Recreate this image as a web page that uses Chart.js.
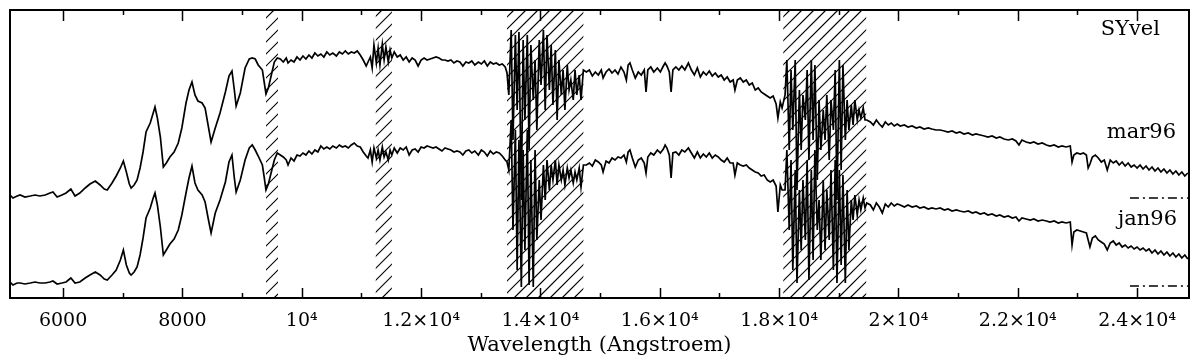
<!DOCTYPE html>
<html>
<head>
<meta charset="utf-8">
<script src="https://cdn.jsdelivr.net/npm/chart.js@4"></script>
<style>
  html, body { margin: 0; padding: 0; background: #fff; }
  #wrap { width: 1200px; height: 362px; }
</style>
</head>
<body>
<div id="wrap"><canvas id="spec" width="1200" height="362"></canvas></div>
<script>
// wavelength grid (Angstroem)
const wavelength = [
    5110, 5160, 5230, 5280, 5360, 5450, 5530, 5610, 5700, 5780,
    5830, 5900, 5980, 6050, 6130, 6200, 6280, 6370, 6450, 6540,
    6620, 6690, 6740, 6820, 6890, 6960, 7010, 7060, 7110, 7140,
    7190, 7240, 7290, 7340, 7390, 7460, 7510, 7540, 7580, 7630,
    7680, 7730, 7790, 7860, 7930, 7990, 8060, 8110, 8160, 8210,
    8260, 8330, 8380, 8430, 8480, 8550, 8630, 8720, 8780, 8830,
    8870, 8900, 8970, 9050, 9120, 9170, 9220, 9270, 9340, 9370,
    9400, 9440, 9490, 9540, 9590, 9640, 9690, 9740, 9770, 9820,
    9870, 9920, 9970, 10020, 10070, 10120, 10170, 10220, 10270, 10320,
    10370, 10420, 10470, 10520, 10580, 10630, 10680, 10730, 10780, 10830,
    10880, 10930, 10980, 11030, 11080, 11110, 11150, 11180, 11210, 11250,
    11280, 11310, 11350, 11380, 11410, 11450, 11480, 11510, 11550, 11600,
    11650, 11700, 11750, 11800, 11850, 11900, 11950, 12000, 12050, 12100,
    12150, 12200, 12250, 12300, 12350, 12400, 12450, 12500, 12550, 12600,
    12650, 12700, 12750, 12800, 12850, 12900, 12960, 13010, 13060, 13110,
    13160, 13210, 13260, 13310, 13360, 13410, 13440, 13470, 13510, 13540,
    13580, 13610, 13640, 13680, 13710, 13740, 13780, 13810, 13840, 13880,
    13910, 13940, 13980, 14010, 14050, 14080, 14110, 14150, 14180, 14210,
    14250, 14280, 14310, 14350, 14380, 14410, 14450, 14480, 14510, 14550,
    14580, 14610, 14650, 14680, 14720, 14770, 14820, 14870, 14920, 14970,
    15020, 15050, 15100, 15150, 15200, 15250, 15300, 15350, 15400, 15440,
    15470, 15500, 15540, 15590, 15640, 15690, 15740, 15770, 15800, 15850,
    15900, 15960, 16010, 16060, 16090, 16120, 16160, 16190, 16220, 16270,
    16320, 16370, 16420, 16480, 16530, 16580, 16630, 16680, 16730, 16780,
    16830, 16880, 16930, 16980, 17030, 17080, 17130, 17180, 17230, 17260,
    17300, 17350, 17400, 17450, 17500, 17550, 17600, 17650, 17700, 17750,
    17800, 17850, 17900, 17950, 17980, 18020, 18050, 18100, 18130, 18170,
    18200, 18230, 18270, 18300, 18340, 18370, 18400, 18440, 18470, 18500,
    18540, 18570, 18600, 18640, 18670, 18700, 18740, 18770, 18800, 18840,
    18870, 18910, 18940, 18970, 19010, 19040, 19070, 19110, 19140, 19170,
    19210, 19240, 19270, 19310, 19340, 19370, 19410, 19440, 19470, 19530,
    19580, 19630, 19680, 19730, 19780, 19830, 19880, 19930, 19980, 20030,
    20100, 20160, 20230, 20300, 20360, 20430, 20500, 20560, 20630, 20700,
    20770, 20830, 20900, 20970, 21030, 21100, 21170, 21240, 21300, 21370,
    21440, 21500, 21570, 21640, 21700, 21770, 21840, 21910, 21970, 22020,
    22070, 22140, 22210, 22270, 22340, 22410, 22480, 22540, 22610, 22680,
    22740, 22810, 22880, 22910, 22940, 22990, 23050, 23100, 23150, 23180,
    23210, 23250, 23300, 23350, 23400, 23450, 23500, 23550, 23600, 23650,
    23700, 23750, 23800, 23850, 23900, 23950, 24000, 24050, 24100, 24150,
    24200, 24250, 24300, 24350, 24400, 24450, 24500, 24550, 24600, 24650,
    24700, 24750, 24800, 24850
];

// flux (arbitrary units, zero = dash-dot marker) for the two epochs
const mar96 = [
    3, 0, 2, 3, 1, 2, 3, 2, 3, 5,
    6, 1, 3, 5, 9, 2, 5, 10, 14, 17,
    13, 9, 8, 15, 22, 30, 37, 26, 14, 10,
    13, 18, 30, 46, 66, 75, 85, 91, 80, 61,
    31, 35, 41, 46, 55, 70, 95, 108, 116, 103,
    97, 95, 90, 73, 56, 70, 85, 106, 122, 127,
    108, 92, 105, 130, 139, 140, 139, 133, 128, 116,
    104, 110, 123, 136, 140, 139, 136, 140, 135, 138,
    136, 141, 138, 142, 139, 143, 140, 145, 142, 144,
    141, 146, 143, 145, 142, 146, 144, 147, 144, 146,
    145, 147, 143, 138, 132, 136, 141, 130, 153, 135,
    150, 133, 154, 138, 151, 136, 148, 140, 146, 141,
    143, 138, 141, 136, 140, 138, 132, 138, 140, 138,
    139, 140, 141, 140, 138, 138, 137, 138, 135, 137,
    136, 132, 136, 135, 137, 133, 136, 134, 137, 132,
    136, 134, 135, 133, 134, 131, 125, 103, 168, 58,
    163, 88, 166, -2, 158, 78, 163, 48, 153, 98,
    138, 68, 158, 113, 168, 88, 163, 108, 153, 93,
    148, 78, 138, 103, 128, 88, 133, 108, 118, 98,
    128, 103, 123, 98, 128, 126, 128, 122, 126, 123,
    128, 120, 126, 129, 125, 128, 124, 131, 126, 118,
    133, 135, 128, 120, 126, 123, 128, 106, 128, 131,
    126, 130, 126, 132, 135, 132, 126, 106, 128, 131,
    128, 132, 128, 135, 128, 123, 130, 121, 126, 123,
    127, 122, 125, 121, 123, 118, 121, 116, 118, 108,
    118, 120, 116, 118, 113, 115, 108, 110, 106, 104,
    102, 100, 102, 94, 80, 96, 90, 103, 138, 48,
    128, 68, 138, 8, 108, 48, 103, 78, 128, 38,
    138, 58, 133, 18, 98, 48, 88, 58, 103, 38,
    98, 68, 128, -2, 138, 28, 133, 58, 98, 68,
    93, 73, 98, 78, 88, 80, 90, 78, 78, 76,
    73, 78, 74, 71, 76, 73, 75, 72, 74, 72,
    73, 71, 72, 70, 71, 69, 70, 69, 68, 68,
    67, 66, 67, 65, 66, 64, 65, 63, 64, 63,
    62, 61, 62, 60, 61, 59, 58, 59, 57, 53,
    58, 56, 55, 56, 54, 55, 53, 52, 53, 51,
    52, 51, 52, 36, 43, 45, 44, 45, 43, 30,
    34, 41, 43, 40, 36, 38, 28, 38, 35, 37,
    33, 36, 32, 35, 31, 33, 30, 33, 29, 32,
    28, 31, 27, 30, 26, 29, 25, 28, 24, 27,
    23, 26, 22, 25
];

const jan96 = [
    4, 1, 3, 3, 2, 3, 4, 3, 3, 4,
    5, 2, 3, 4, 8, 3, 4, 8, 11, 14,
    11, 7, 6, 11, 16, 26, 36, 21, 13, 11,
    14, 19, 31, 48, 68, 78, 88, 93, 81, 59,
    31, 36, 42, 47, 56, 71, 93, 108, 120, 103,
    96, 91, 84, 68, 53, 73, 86, 104, 124, 131,
    108, 94, 106, 126, 138, 141, 136, 130, 121, 109,
    96, 102, 114, 126, 133, 131, 129, 126, 121, 128,
    125, 131, 130, 133, 131, 135, 132, 136, 134, 140,
    137, 139, 137, 140, 138, 141, 139, 140, 138, 141,
    143, 140, 139, 134, 130, 128, 136, 124, 138, 128,
    136, 126, 139, 129, 134, 126, 136, 131, 138, 133,
    138, 136, 139, 131, 136, 137, 134, 139, 138, 140,
    139, 138, 139, 137, 135, 138, 137, 136, 134, 135,
    134, 131, 135, 136, 133, 135, 131, 136, 134, 130,
    135, 132, 134, 133, 130, 126, 124, 116, 166, 56,
    156, 16, 146, -1, 136, 36, 156, 1, 126, -1,
    136, 46, 106, 66, 121, 86, 126, 96, 121, 106,
    126, 101, 121, 106, 116, 101, 118, 108, 116, 103,
    114, 106, 118, 99, 121, 121, 123, 120, 126, 124,
    121, 114, 125, 123, 128, 126, 129, 128, 131, 124,
    134, 136, 128, 119, 126, 128, 123, 113, 129, 133,
    131, 136, 133, 137, 141, 138, 131, 108, 133, 134,
    131, 136, 134, 138, 133, 128, 134, 128, 132, 129,
    133, 128, 131, 129, 126, 124, 128, 123, 123, 111,
    123, 121, 120, 121, 118, 116, 114, 113, 110, 111,
    106, 104, 106, 100, 74, 101, 96, 96, 136, 56,
    126, 16, 116, 3, 96, 36, 106, 46, 126, 6,
    116, 26, 136, 56, 86, 26, 106, 36, 96, 46,
    116, 16, 126, 3, 116, 21, 111, 3, 96, 36,
    86, 66, 91, 71, 86, 76, 88, 78, 83, 81,
    76, 83, 79, 73, 82, 79, 83, 80, 82, 81,
    79, 81, 79, 80, 78, 79, 77, 78, 77, 78,
    76, 77, 75, 76, 75, 74, 75, 73, 74, 72,
    73, 71, 72, 70, 71, 69, 70, 68, 69, 65,
    68, 67, 66, 67, 65, 66, 65, 64, 65, 63,
    64, 63, 64, 41, 54, 56, 55, 54, 53, 46,
    39, 48, 50, 46, 44, 42, 36, 43, 45, 41,
    43, 39, 41, 38, 40, 37, 39, 36, 38, 35,
    37, 33, 36, 32, 35, 31, 34, 30, 33, 29,
    32, 28, 31, 27
];

// vertical offset of the upper spectrum
const mar96Offset = 88;

// zero-level markers at the right edge
const zeroMarkX = [23880, 24870];

// telluric bands (hatched)
const bandStart = [9400, 11240, 13440, 18070];
const bandEnd = [9600, 11510, 14720, 19460];

// x axis
const xMin = 5110;
const xMax = 24870;
const tickValues = [6000, 8000, 10000, 12000, 14000, 16000, 18000, 20000, 22000, 24000];
const tickLabels = ["6000", "8000", "10⁴", "1.2×10⁴", "1.4×10⁴", "1.6×10⁴", "1.8×10⁴", "2×10⁴", "2.2×10⁴", "2.4×10⁴"];
const minorTicks = [7000, 9000, 11000, 13000, 15000, 17000, 19000, 21000, 23000];

const labels = [
    { text: "SYvel", y: 35, right: 29 },
    { text: "mar96", y: 138, right: 13 },
    { text: "jan96", y: 225, right: 12 }
];

const serif = "'DejaVu Serif', serif";

// hatching of the bad bands, drawn under the spectra
const hatchPlugin = {
    id: "hatch",
    beforeDatasetsDraw(chart) {
        const ctx = chart.ctx;
        const a = chart.chartArea;
        const x = chart.scales.x;
        ctx.save();
        ctx.strokeStyle = "#000";
        ctx.lineWidth = 1.2;
        for (let i = 0; i < bandStart.length; i++) {
            const x0 = x.getPixelForValue(bandStart[i]);
            const x1 = x.getPixelForValue(bandEnd[i]);
            ctx.save();
            ctx.beginPath();
            ctx.rect(x0, a.top, x1 - x0, a.bottom - a.top);
            ctx.clip();
            ctx.beginPath();
            for (let c = a.left + a.top; c < a.right + a.bottom; c += 12) {
                ctx.moveTo(c - a.bottom, a.bottom);
                ctx.lineTo(c - a.top, a.top);
            }
            ctx.stroke();
            ctx.restore();
        }
        ctx.restore();
    }
};

// frame, inward ticks and the curve names
const framePlugin = {
    id: "frame",
    afterDraw(chart) {
        const ctx = chart.ctx;
        const a = chart.chartArea;
        const x = chart.scales.x;
        ctx.save();
        ctx.strokeStyle = "#000";
        ctx.lineWidth = 2;
        ctx.strokeRect(a.left, a.top, a.right - a.left, a.bottom - a.top);

        ctx.lineWidth = 1.5;
        ctx.beginPath();
        tickValues.forEach((v) => {
            const px = Math.round(x.getPixelForValue(v)) + 0.5;
            ctx.moveTo(px, a.bottom); ctx.lineTo(px, a.bottom - 10);
            ctx.moveTo(px, a.top); ctx.lineTo(px, a.top + 11);
        });
        minorTicks.forEach((v) => {
            const px = Math.round(x.getPixelForValue(v)) + 0.5;
            ctx.moveTo(px, a.bottom); ctx.lineTo(px, a.bottom - 5);
            ctx.moveTo(px, a.top); ctx.lineTo(px, a.top + 5);
        });
        ctx.stroke();

        ctx.fillStyle = "#000";
        ctx.font = "21px " + serif;
        ctx.textAlign = "right";
        ctx.textBaseline = "alphabetic";
        labels.forEach((l) => {
            ctx.fillText(l.text, a.right - l.right, l.y);
        });
        ctx.restore();
    }
};

const specLine = {
    borderColor: "#000",
    borderWidth: 1.7,
    pointRadius: 0,
    tension: 0,
    fill: false
};

new Chart(document.getElementById("spec"), {
    type: "line",
    data: {
        datasets: [
            Object.assign({
                label: "mar96",
                data: wavelength.map((w, i) => ({ x: w, y: mar96[i] + mar96Offset }))
            }, specLine),
            Object.assign({
                label: "jan96",
                data: wavelength.map((w, i) => ({ x: w, y: jan96[i] }))
            }, specLine),
            {
                label: "mar96 zero",
                data: zeroMarkX.map((w) => ({ x: w, y: mar96Offset })),
                borderColor: "#000",
                borderWidth: 1.3,
                borderDash: [9, 4, 2, 4],
                pointRadius: 0
            },
            {
                label: "jan96 zero",
                data: zeroMarkX.map((w) => ({ x: w, y: 0 })),
                borderColor: "#000",
                borderWidth: 1.3,
                borderDash: [9, 4, 2, 4],
                pointRadius: 0
            }
        ]
    },
    options: {
        responsive: false,
        animation: false,
        devicePixelRatio: 1,
        layout: { padding: { left: 10, right: 11, top: 10, bottom: 0 } },
        plugins: { legend: { display: false }, tooltip: { enabled: false } },
        scales: {
            x: {
                type: "linear",
                min: xMin,
                max: xMax,
                grid: { display: false, drawTicks: false },
                border: { display: false },
                afterBuildTicks: (scale) => {
                    scale.ticks = tickValues.map((v) => ({ value: v }));
                },
                afterFit: (scale) => {
                    scale.height = 64;
                },
                ticks: {
                    autoSkip: false,
                    maxRotation: 0,
                    padding: 12,
                    color: "#000",
                    font: { family: serif, size: 19 },
                    callback: (value, index) => tickLabels[index]
                },
                title: {
                    display: true,
                    text: "Wavelength (Angstroem)",
                    color: "#000",
                    font: { family: serif, size: 21 },
                    padding: { top: 2, bottom: 4 }
                }
            },
            y: {
                display: false,
                min: -12,
                max: 276
            }
        }
    },
    plugins: [hatchPlugin, framePlugin]
});
</script>
</body>
</html>
